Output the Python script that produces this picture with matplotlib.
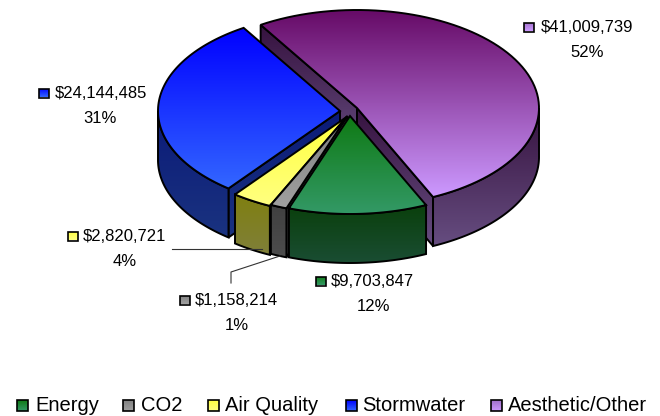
import numpy as np
import matplotlib
matplotlib.use("Agg")
import matplotlib.pyplot as plt
from matplotlib.colors import LinearSegmentedColormap
from matplotlib.patches import Polygon

plt.rcParams['font.family'] = ['Liberation Sans', 'DejaVu Sans']

# data, clockwise from the energy slice
names = ['Energy', 'CO2', 'Air Quality', 'Stormwater', 'Aesthetic/Other']
values = [9703847, 1158214, 2820721, 24144485, 41009739]

# ellipse size in pixels, and where each slice has its tip (exploded)
RX, RY, DEPTH = 182, 98, 49
START = 65.3
tips = [(350, 116), (347.5, 116), (346.5, 117), (340, 111), (357, 108)]

# colours: top face (back, front), side (top, bottom)
top_cols = [('#0f7a14', '#339966'), ('#808080', '#a0a0a0'), ('#ffff40', '#ffff80'),
            ('#0000ff', '#3366ff'), ('#660a66', '#cc99ff')]
side_cols = [('#0a400c', '#1a4d33'), ('#404040', '#4d4d4d'), ('#7f7f10', '#80803a'),
             ('#0b1a78', '#1a3380'), ('#36123f', '#664d80')]

# label layout: marker left, marker y, text left, percent centre
label_x = [316, 180, 68, 39, 524]
label_y = [281, 300, 236, 93, 27]
text_x = [331, 195, 83, 55, 541]
pct_x = [373, 237, 125, 100, 587]
legend_marker_x = [17, 123, 208, 346, 491]
legend_text_x = [35, 141, 225, 362, 508]

fig = plt.figure(figsize=(6.6, 4.16), dpi=100)
ax = fig.add_axes([0, 0, 1, 1])
ax.zo = 2


def grad_poly(pts, c1, c2, lw=1.4):
    pts = np.array(pts)
    cmap = LinearSegmentedColormap.from_list('g', [c1, c2])
    y0, y1 = pts[:, 1].min(), pts[:, 1].max()
    x0, x1 = pts[:, 0].min(), pts[:, 0].max()
    grad = np.linspace(0, 1, 128).reshape(-1, 1)
    im = ax.imshow(grad, cmap=cmap, extent=[x0, x1, y1, y0], aspect='auto', zorder=ax.zo)
    patch = Polygon(pts, closed=True, facecolor='none', edgecolor='black', lw=lw,
                    joinstyle='miter', zorder=ax.zo + 0.5)
    ax.add_patch(patch)
    im.set_clip_path(patch)
    ax.zo += 1


def arc(tip, a, b):
    t = np.radians(np.linspace(a, b, 80))
    return np.column_stack([tip[0] + RX * np.cos(t), tip[1] + RY * np.sin(t)])


def draw_slice(tip, a, b, top, side):
    down = np.array([0, DEPTH])
    tip_arr = np.array(tip, dtype=float)
    # radial walls first, only those turned towards the viewer
    facing = [(a, np.sin(np.radians(a - 90)) > 0), (b, np.cos(np.radians(b)) > 0)]
    for ang, visible in facing:
        if visible:
            edge = arc(tip, ang, ang)[0]
            grad_poly([tip_arr, edge, edge + down, tip_arr + down], side[0], side[1])
    # rim only where it faces the viewer, slices may run past 360
    for shift in (0, -360):
        lo, hi = max(a + shift, 0), min(b + shift, 180)
        if hi > lo:
            rim = arc(tip, lo, hi)
            grad_poly(np.vstack([rim, (rim + down)[::-1]]), side[0], side[1])
    grad_poly(np.vstack([[tip_arr], arc(tip, a, b)]), top[0], top[1])


total = sum(values)
spans = [v / total * 360 for v in values]
starts = [START + sum(spans[:i]) for i in range(len(values))]

# painter's order: back slice first
for i in [4, 3, 2, 1, 0]:
    draw_slice(tips[i], starts[i], starts[i] + spans[i], top_cols[i], side_cols[i])

# leader lines
ax.plot([172, 262], [249, 249], color='#333333', lw=0.8, zorder=ax.zo)
ax.plot([231, 231, 280], [283, 272, 256], color='#333333', lw=0.8, zorder=ax.zo)
ax.zo += 1

# data labels
for i in range(len(values)):
    x, y = label_x[i], label_y[i]
    grad_poly([(x, y - 4.5), (x + 10, y - 4.5), (x + 10, y + 4.5), (x, y + 4.5)],
              top_cols[i][0] if i != 4 else '#a070c8', top_cols[i][1], lw=1.2)
    ax.text(text_x[i], y + 0.5, f'${values[i]:,}', fontsize=12, va='center', ha='left', color='black', zorder=50)
    ax.text(pct_x[i], y + 25.5, f'{values[i] / total * 100:.0f}%', fontsize=12, va='center', ha='center',
            color='black', zorder=50)

# legend
for i in range(len(names)):
    x = legend_marker_x[i]
    grad_poly([(x, 400), (x + 11, 400), (x + 11, 411), (x, 411)],
              top_cols[i][0] if i != 4 else '#a070c8', top_cols[i][1], lw=1.2)
    ax.text(legend_text_x[i], 405.5, names[i], fontsize=14.5, va='center', ha='left', color='black', zorder=50)

ax.set_xlim(0, 660)
ax.set_ylim(416, 0)
ax.axis('off')
fig.savefig('out.png', dpi=100, facecolor='white')
